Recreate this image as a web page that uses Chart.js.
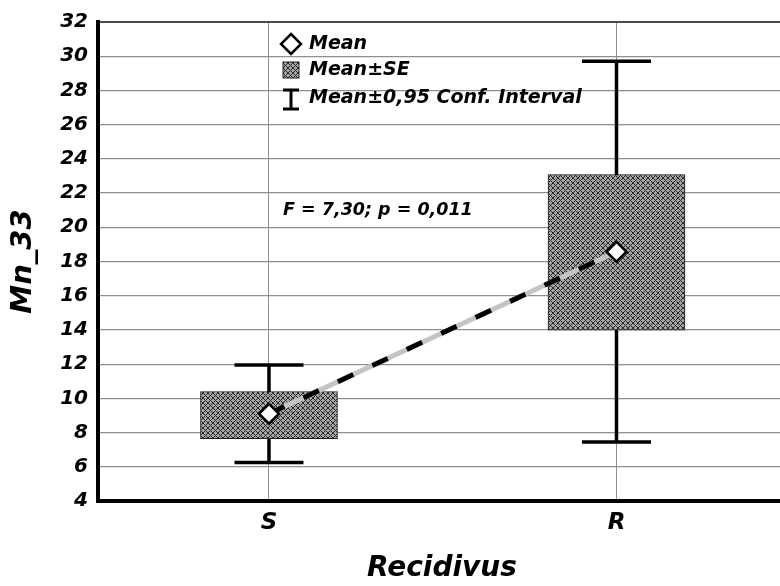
<!DOCTYPE html>
<html>
<head>
<meta charset="utf-8">
<script src="https://cdn.jsdelivr.net/npm/chart.js@4.4.1/dist/chart.umd.min.js"></script>
<style>
  html, body { margin: 0; padding: 0; background: #fff; overflow: hidden; }
  canvas { display: block; }
</style>
</head>
<body>
<canvas id="meanChart" width="780" height="586"></canvas>
<script>
const groups = ['S', 'R'];
const groupPos = [0, 1];
const means = [9.1, 18.57];
const seLow = [7.65, 13.98];
const seHigh = [10.4, 23.08];
const ciLow = [6.25, 7.45];
const ciHigh = [11.95, 29.7];
const yMin = 4;
const yMax = 32;
const yStep = 2;
const xTitle = 'Recidivus';
const yTitle = 'Mn_33';
const statText = 'F = 7,30; p = 0,011';
const legendLabels = ['Mean', 'Mean±SE', 'Mean±0,95 Conf. Interval'];

const FAMILY = '"DejaVu Sans", "Liberation Sans", sans-serif';
const boldItalic = size => ({ family: FAMILY, size: size, style: 'italic', weight: 'bold' });

// grey fill with a dark diagonal cross-hatch, set pixel by pixel
function makeHatch(ctx) {
    const n = 5;
    const tile = document.createElement('canvas');
    tile.width = n;
    tile.height = n;
    const g = tile.getContext('2d');
    g.fillStyle = '#a4a4a4';
    g.fillRect(0, 0, n, n);
    g.fillStyle = '#2a2a2a';
    for (let py = 0; py < n; py++) {
        for (let px = 0; px < n; px++) {
            if ((px + py) % n === 0 || (px - py + n) % n === 0) g.fillRect(px, py, 1, 1);
        }
    }
    return ctx.createPattern(tile, 'repeat');
}

const chartCtx = document.getElementById('meanChart').getContext('2d');
const hatch = makeHatch(chartCtx);
const meanPoints = groupPos.map((x, i) => ({ x: x, y: means[i] }));

// whiskers for the 0.95 confidence interval, drawn under the boxes
const whiskers = {
    id: 'whiskers',
    beforeDatasetsDraw(chart) {
        const { ctx, scales: { x, y } } = chart;
        const capHalf = 34.5;
        ctx.save();
        ctx.strokeStyle = '#000';
        ctx.lineWidth = 3.5;
        groupPos.forEach((pos, i) => {
            const px = x.getPixelForValue(pos);
            const top = y.getPixelForValue(ciHigh[i]);
            const bottom = y.getPixelForValue(ciLow[i]);
            ctx.beginPath();
            ctx.moveTo(px, top);
            ctx.lineTo(px, bottom);
            ctx.moveTo(px - capHalf, top);
            ctx.lineTo(px + capHalf, top);
            ctx.moveTo(px - capHalf, bottom);
            ctx.lineTo(px + capHalf, bottom);
            ctx.stroke();
        });
        ctx.restore();
    }
};

// legend block, x axis title and the test statistic text
const annotations = {
    id: 'annotations',
    afterDraw(chart) {
        const ctx = chart.ctx;
        const mx = 291;
        const tx = 309;
        const rows = [44, 70, 98];
        ctx.save();

        // diamond
        ctx.beginPath();
        ctx.moveTo(mx, rows[0] - 10);
        ctx.lineTo(mx + 10, rows[0]);
        ctx.lineTo(mx, rows[0] + 10);
        ctx.lineTo(mx - 10, rows[0]);
        ctx.closePath();
        ctx.fillStyle = '#fff';
        ctx.fill();
        ctx.lineWidth = 2.5;
        ctx.strokeStyle = '#000';
        ctx.stroke();

        // hatched square
        ctx.fillStyle = hatch;
        ctx.fillRect(mx - 8, rows[1] - 8, 16, 16);
        ctx.lineWidth = 1;
        ctx.strokeStyle = '#222';
        ctx.strokeRect(mx - 8, rows[1] - 8, 16, 16);

        // I-bar
        ctx.lineWidth = 3;
        ctx.strokeStyle = '#000';
        ctx.beginPath();
        ctx.moveTo(mx, rows[2] - 8);
        ctx.lineTo(mx, rows[2] + 11);
        ctx.moveTo(mx - 8, rows[2] - 8);
        ctx.lineTo(mx + 8, rows[2] - 8);
        ctx.moveTo(mx - 8, rows[2] + 11);
        ctx.lineTo(mx + 8, rows[2] + 11);
        ctx.stroke();

        ctx.fillStyle = '#000';
        ctx.textBaseline = 'middle';
        ctx.textAlign = 'left';
        ctx.font = 'italic bold 19px ' + FAMILY;
        legendLabels.forEach((label, i) => ctx.fillText(label, tx, rows[i]));

        ctx.font = 'italic bold 17.5px ' + FAMILY;
        ctx.fillText(statText, 283, 210);

        ctx.textAlign = 'center';
        ctx.textBaseline = 'alphabetic';
        ctx.font = 'italic bold 28px ' + FAMILY;
        ctx.fillText(xTitle, 442, 576);
        ctx.restore();
    }
};

new Chart(chartCtx, {
    type: 'bar',
    data: {
        datasets: [
            {
                type: 'line',
                label: 'Mean',
                data: meanPoints,
                showLine: false,
                pointStyle: 'rectRot',
                pointRadius: 10,
                pointBackgroundColor: '#fff',
                pointBorderColor: '#000',
                pointBorderWidth: 2.5,
                order: 1
            },
            {
                type: 'line',
                data: meanPoints,
                borderColor: '#000',
                borderWidth: 5,
                borderDash: [17, 21],
                pointRadius: 0,
                tension: 0,
                order: 2
            },
            {
                type: 'line',
                data: meanPoints,
                borderColor: '#c4c4c4',
                borderWidth: 5,
                pointRadius: 0,
                tension: 0,
                order: 3
            },
            {
                type: 'bar',
                label: 'Mean±SE',
                data: groupPos.map((x, i) => ({ x: x, y: [seLow[i], seHigh[i]] })),
                backgroundColor: hatch,
                borderColor: '#1a1a1a',
                borderWidth: 1,
                borderSkipped: false,
                barThickness: 137,
                order: 4
            }
        ]
    },
    options: {
        responsive: false,
        animation: false,
        events: [],
        layout: { autoPadding: false, padding: { top: 22, right: 0, bottom: 0, left: 0 } },
        plugins: {
            legend: { display: false },
            tooltip: { enabled: false }
        },
        scales: {
            x: {
                type: 'linear',
                offset: false,
                min: -0.492,
                max: 1.4705,
                afterBuildTicks: scale => {
                    scale.ticks = groupPos.map(v => ({ value: v }));
                },
                afterFit: scale => { scale.height = 85; },
                ticks: {
                    callback: v => groups[groupPos.indexOf(v)],
                    font: boldItalic(23),
                    color: '#000',
                    padding: 8,
                    maxRotation: 0,
                    autoSkip: false
                },
                grid: { offset: false, color: '#8f8f8f', lineWidth: 1, drawTicks: false },
                border: { color: '#000', width: 4 }
            },
            y: {
                min: yMin,
                max: yMax,
                beginAtZero: false,
                afterFit: scale => { scale.width = 98; },
                ticks: {
                    stepSize: yStep,
                    font: boldItalic(20),
                    color: '#000',
                    padding: 10
                },
                grid: {
                    color: c => c.tick.value === yMax ? '#4a4a4a' : '#8f8f8f',
                    lineWidth: c => c.tick.value === yMax ? 2 : 1.2,
                    drawTicks: false
                },
                border: { color: '#000', width: 4 },
                title: {
                    display: true,
                    text: yTitle,
                    font: boldItalic(29),
                    color: '#000',
                    padding: { top: 6.5, bottom: 0 }
                }
            }
        }
    },
    plugins: [whiskers, annotations]
});
</script>
</body>
</html>
